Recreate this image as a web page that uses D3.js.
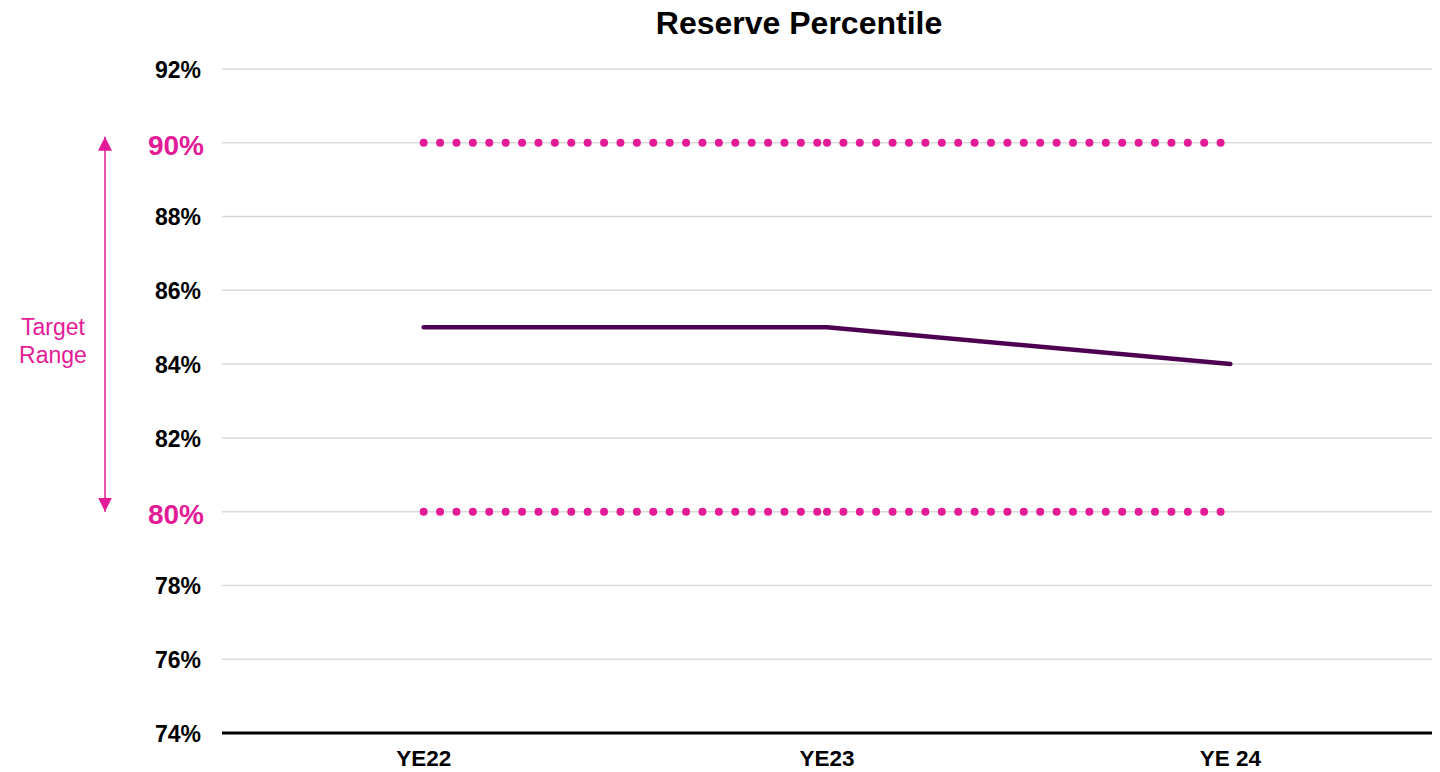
<!DOCTYPE html>
<html>
<head>
<meta charset="utf-8">
<script src="https://cdn.jsdelivr.net/npm/d3@7"></script>
<style>
  html, body { margin: 0; padding: 0; background: #fff; }
  svg { display: block; font-family: "Liberation Sans", Arial, sans-serif; }
</style>
</head>
<body>
<svg id="chart" width="1440" height="772"></svg>
<script>
// Reserve percentile by year end, with the 80%–90% target band
const categories = ["YE22", "YE23", "YE 24"];
const reserveValues = [85, 85, 84];
const targetLow = [80, 80, 80];
const targetHigh = [90, 90, 90];
const yTicks = [74, 76, 78, 80, 82, 84, 86, 88, 90, 92];
const highlightTicks = [80, 90];

const W = 1440, H = 772;
const margin = { left: 222, right: 8, top: 69, bottom: 39 };
const pink = "#E31B97";
const lineColor = "#4D0052";

const svg = d3.select("#chart");

const x = d3.scaleBand()
  .domain(categories)
  .range([margin.left, W - margin.right])
  .paddingInner(0).paddingOuter(0);

const y = d3.scaleLinear()
  .domain([74, 92])
  .range([H - margin.bottom, margin.top]);

const cx = c => x(c) + x.bandwidth() / 2;

// Title
svg.append("text")
  .attr("x", 799).attr("y", 34)
  .attr("text-anchor", "middle")
  .attr("font-size", 32).attr("font-weight", "bold")
  .attr("fill", "#000")
  .text("Reserve Percentile");

// Horizontal gridlines
svg.append("g").selectAll("line")
  .data(yTicks.filter(t => t !== 74))
  .join("line")
  .attr("x1", margin.left).attr("x2", W - margin.right)
  .attr("y1", d => y(d)).attr("y2", d => y(d))
  .attr("stroke", "#d9d9d9").attr("stroke-width", 1.5);

// Y axis labels
const yAxis = d3.axisLeft(y).tickValues(yTicks).tickFormat(d => d + "%").tickSize(0).tickPadding(21);
const gy = svg.append("g").attr("transform", `translate(${margin.left},0)`).call(yAxis);
gy.select(".domain").remove();
gy.selectAll("text")
  .attr("font-family", "'Liberation Sans', Arial, sans-serif")
  .attr("font-weight", "bold")
  .attr("font-size", d => highlightTicks.includes(d) ? 28 : 23)
  .attr("fill", d => highlightTicks.includes(d) ? pink : "#000")
  .attr("dx", d => highlightTicks.includes(d) ? 3 : 0)
  .attr("dy", d => highlightTicks.includes(d) ? "0.43em" : "0.36em");

// X axis baseline and labels
svg.append("line")
  .attr("x1", margin.left).attr("x2", W - margin.right)
  .attr("y1", y(74)).attr("y2", y(74))
  .attr("stroke", "#000").attr("stroke-width", 3);

const xAxis = d3.axisBottom(x).tickSize(0).tickPadding(17);
const gx = svg.append("g").attr("transform", `translate(0,${y(74)})`).call(xAxis);
gx.select(".domain").remove();
gx.selectAll("text")
  .attr("font-family", "'Liberation Sans', Arial, sans-serif")
  .attr("font-weight", "bold")
  .attr("font-size", 22.5)
  .attr("fill", "#000");

// Dotted target bounds, drawn segment by segment between categories
function dottedSeries(values) {
  const segs = d3.pairs(values.map((v, i) => [cx(categories[i]), y(v)]));
  svg.append("g").selectAll("path")
    .data(segs)
    .join("path")
    .attr("d", d => d3.line()(d))
    .attr("fill", "none")
    .attr("stroke", pink)
    .attr("stroke-width", 8)
    .attr("stroke-linecap", "round")
    .attr("stroke-dasharray", "0 16.4");
}
dottedSeries(targetHigh);
dottedSeries(targetLow);

// Reserve percentile line
svg.append("path")
  .datum(reserveValues)
  .attr("d", d3.line().x((d, i) => cx(categories[i])).y(d => y(d)))
  .attr("fill", "none")
  .attr("stroke", lineColor)
  .attr("stroke-width", 4.5)
  .attr("stroke-linecap", "round")
  .attr("stroke-linejoin", "round");

// Target range double-headed arrow
const defs = svg.append("defs");
defs.append("marker")
  .attr("id", "arrowHead")
  .attr("viewBox", "0 0 10 10")
  .attr("refX", 10).attr("refY", 5)
  .attr("markerWidth", 14).attr("markerHeight", 14)
  .attr("markerUnits", "userSpaceOnUse")
  .attr("orient", "auto-start-reverse")
  .append("path")
  .attr("d", "M0,0 L10,5 L0,10 Z")
  .attr("fill", pink);

const arrowX = 105;
svg.append("line")
  .attr("x1", arrowX).attr("x2", arrowX)
  .attr("y1", y(90) - 6).attr("y2", y(80))
  .attr("stroke", pink).attr("stroke-width", 1.5)
  .attr("marker-start", "url(#arrowHead)")
  .attr("marker-end", "url(#arrowHead)");

const label = svg.append("text")
  .attr("text-anchor", "middle")
  .attr("font-size", 23)
  .attr("fill", pink);
label.append("tspan").attr("x", 53).attr("y", 335).text("Target");
label.append("tspan").attr("x", 53).attr("y", 363).text("Range");
</script>
</body>
</html>
